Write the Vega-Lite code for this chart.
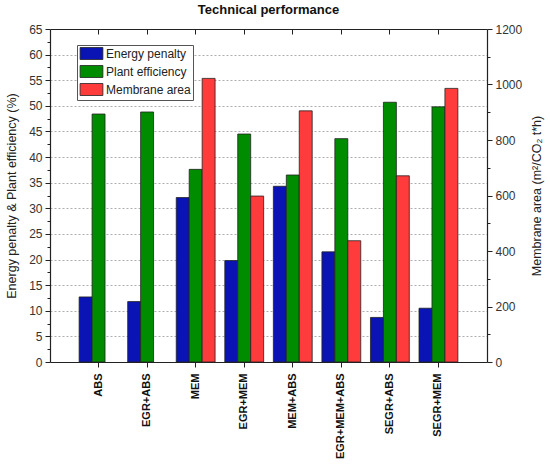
{
  "$schema": "https://vega.github.io/schema/vega-lite/v6.json",
  "autosize": {"type": "none"},
  "padding": {"left": 50, "top": 29, "right": 63, "bottom": 107},
  "width": 437,
  "height": 333,
  "title": {
    "text": "Technical performance",
    "font": "Liberation Sans",
    "fontSize": 13,
    "fontWeight": "bold",
    "color": "#111",
    "offset": 6
  },
  "data": {
    "values": [
      {"scenario": "ABS", "metric": "Energy penalty", "value": 12.7},
      {"scenario": "ABS", "metric": "Plant efficiency", "value": 48.4},
      {"scenario": "EGR+ABS", "metric": "Energy penalty", "value": 11.8},
      {"scenario": "EGR+ABS", "metric": "Plant efficiency", "value": 48.8},
      {"scenario": "MEM", "metric": "Energy penalty", "value": 32.1},
      {"scenario": "MEM", "metric": "Plant efficiency", "value": 37.6},
      {"scenario": "MEM", "metric": "Membrane area", "value": 1022},
      {"scenario": "EGR+MEM", "metric": "Energy penalty", "value": 19.8},
      {"scenario": "EGR+MEM", "metric": "Plant efficiency", "value": 44.5},
      {"scenario": "EGR+MEM", "metric": "Membrane area", "value": 598},
      {"scenario": "MEM+ABS", "metric": "Energy penalty", "value": 34.3},
      {"scenario": "MEM+ABS", "metric": "Plant efficiency", "value": 36.5},
      {"scenario": "MEM+ABS", "metric": "Membrane area", "value": 905},
      {"scenario": "EGR+MEM+ABS", "metric": "Energy penalty", "value": 21.5},
      {"scenario": "EGR+MEM+ABS", "metric": "Plant efficiency", "value": 43.6},
      {"scenario": "EGR+MEM+ABS", "metric": "Membrane area", "value": 437},
      {"scenario": "SEGR+ABS", "metric": "Energy penalty", "value": 8.7},
      {"scenario": "SEGR+ABS", "metric": "Plant efficiency", "value": 50.7},
      {"scenario": "SEGR+ABS", "metric": "Membrane area", "value": 671},
      {"scenario": "SEGR+MEM", "metric": "Energy penalty", "value": 10.5},
      {"scenario": "SEGR+MEM", "metric": "Plant efficiency", "value": 49.8},
      {"scenario": "SEGR+MEM", "metric": "Membrane area", "value": 986}
    ]
  },
  "encoding": {
    "x": {
      "field": "scenario",
      "type": "nominal",
      "sort": null,
      "scale": {
        "domain": ["ABS", "EGR+ABS", "MEM", "EGR+MEM", "MEM+ABS", "EGR+MEM+ABS", "SEGR+ABS", "SEGR+MEM"],
        "paddingInner": 0.2,
        "paddingOuter": 0.6
      }
    },
    "xOffset": {
      "field": "metric",
      "type": "nominal",
      "scale": {"domain": ["Energy penalty", "Plant efficiency", "Membrane area"]}
    },
    "color": {
      "field": "metric",
      "type": "nominal",
      "scale": {
        "domain": ["Energy penalty", "Plant efficiency", "Membrane area"],
        "range": ["#0a14b4", "#008c00", "#ff3b3b"]
      },
      "legend": {
        "title": null,
        "orient": "none",
        "legendX": 27,
        "legendY": 16,
        "symbolType": "M-1.9,-1H1.9V1H-1.9Z",
        "symbolSize": 144,
        "symbolOffset": 6,
        "symbolStrokeColor": "#222",
        "symbolStrokeWidth": 0.8,
        "symbolOpacity": 1,
        "labelFont": "Liberation Sans",
        "labelFontSize": 12,
        "labelColor": "#222",
        "labelOffset": 8,
        "rowPadding": 1,
        "padding": 2,
        "strokeColor": "#555",
        "fillColor": "white"
      }
    }
  },
  "layer": [
    {
      "transform": [{"filter": "datum.metric !== 'Membrane area'"}],
      "mark": {"type": "bar", "stroke": "#222", "strokeWidth": 0.8},
      "encoding": {
        "x": {
          "field": "scenario",
          "type": "nominal",
          "sort": null,
          "title": null,
          "axis": {
            "orient": "bottom",
            "labelAngle": -90,
            "labelFont": "Liberation Sans",
            "labelFontSize": 11,
            "labelFontWeight": "bold",
            "labelColor": "#111",
            "labelPadding": 6,
            "tickColor": "#222",
            "tickSize": 5,
            "domainColor": "#222",
            "domainWidth": 1.2
          }
        },
        "y": {
          "field": "value",
          "type": "quantitative",
          "title": "Energy penalty & Plant efficiency (%)",
          "scale": {"domain": [0, 65], "nice": false},
          "axis": {
            "values": [0, 2.5, 5, 7.5, 10, 12.5, 15, 17.5, 20, 22.5, 25, 27.5, 30, 32.5, 35, 37.5, 40, 42.5, 45, 47.5, 50, 52.5, 55, 57.5, 60, 62.5, 65],
            "labelExpr": "datum.value % 5 === 0 ? datum.label : ''",
            "tickSize": {"condition": {"test": "datum.value % 5 === 0", "value": 5}, "value": 3},
            "gridOpacity": {"condition": {"test": "datum.value % 5 === 0 && datum.value > 0 && datum.value < 65", "value": 1}, "value": 0},
            "grid": true,
            "gridColor": "#999",
            "gridDash": [2, 2],
            "gridWidth": 0.8,
            "labelFont": "Liberation Sans",
            "labelFontSize": 12,
            "labelColor": "#333",
            "labelPadding": 3,
            "tickColor": "#222",
            "domainColor": "#222",
            "domainWidth": 1.2,
            "titleFont": "Liberation Sans",
            "titleFontSize": 12.5,
            "titleFontWeight": "normal",
            "titleColor": "#222",
            "titlePadding": 10
          }
        }
      }
    },
    {
      "transform": [{"filter": "datum.metric === 'Membrane area'"}],
      "mark": {"type": "bar", "stroke": "#222", "strokeWidth": 0.8},
      "encoding": {
        "x": {
          "field": "scenario",
          "type": "nominal",
          "sort": null,
          "title": null,
          "axis": {
            "orient": "top",
            "labels": false,
            "tickSize": -5,
            "tickColor": "#222",
            "domainColor": "#222",
            "domainWidth": 1.2
          }
        },
        "y": {
          "field": "value",
          "type": "quantitative",
          "title": "Membrane area (m²/CO₂ t*h)",
          "scale": {"domain": [0, 1200], "nice": false},
          "axis": {
            "orient": "right",
            "values": [0, 100, 200, 300, 400, 500, 600, 700, 800, 900, 1000, 1100, 1200],
            "format": "d",
            "labelExpr": "datum.value % 200 === 0 ? datum.label : ''",
            "tickSize": {"condition": {"test": "datum.value % 200 === 0", "value": 5}, "value": 3},
            "grid": false,
            "labelFont": "Liberation Sans",
            "labelFontSize": 12,
            "labelColor": "#333",
            "labelPadding": 3,
            "tickColor": "#222",
            "domainColor": "#222",
            "domainWidth": 1.2,
            "titleFont": "Liberation Sans",
            "titleFontSize": 12.5,
            "titleFontWeight": "normal",
            "titleColor": "#222",
            "titleAngle": -90,
            "titlePadding": 22
          }
        }
      }
    }
  ],
  "resolve": {
    "scale": {"y": "independent"},
    "axis": {"x": "independent", "y": "independent"}
  },
  "config": {
    "view": {"stroke": null}
  }
}
